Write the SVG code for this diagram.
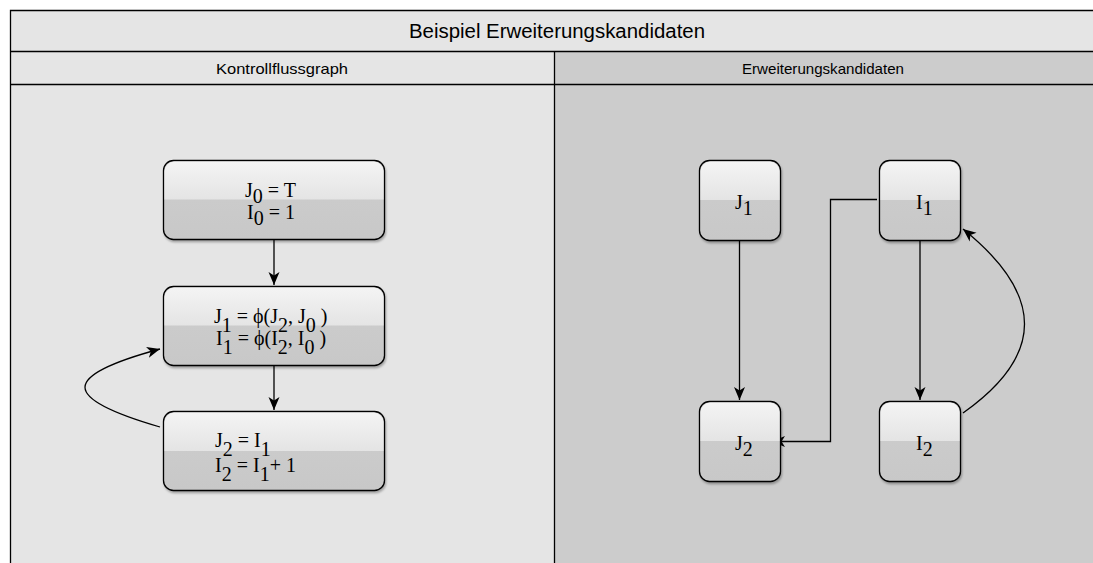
<svg xmlns="http://www.w3.org/2000/svg" width="1093" height="563" viewBox="0 0 1093 563">
<style>
.hdr{font-family:"Liberation Sans",Arial,sans-serif;fill:#000;text-anchor:middle;dominant-baseline:central}
.m{font-family:"Liberation Serif","Times New Roman",serif;font-size:20px;fill:#000}
.node{fill:url(#nodeFill);stroke:#000;stroke-width:1.3;filter:url(#sh)}
.gl{fill:url(#glass)}
.c{fill:none;stroke:#000;stroke-width:1.3}
</style>
<defs>
<linearGradient id="nodeFill" x1="0" y1="0" x2="0" y2="1">
<stop offset="0" stop-color="#cecece"/><stop offset="1" stop-color="#c8c8c8"/>
</linearGradient>
<linearGradient id="glass" x1="0" y1="0" x2="0" y2="1">
<stop offset="0" stop-color="#f4f4f4"/><stop offset="1" stop-color="#e4e4e4"/>
</linearGradient>
<filter id="sh" x="-10%" y="-10%" width="120%" height="130%">
<feDropShadow dx="1" dy="2" stdDeviation="1.2" flood-color="#000" flood-opacity="0.3"/>
</filter>
<marker id="ah" markerUnits="userSpaceOnUse" markerWidth="14" markerHeight="12" refX="13" refY="6" orient="auto">
<path d="M0,0.5 L13,6 L0,11.5 L3.5,6 Z" fill="#000"/>
</marker>
</defs>

<g id="frame">
<rect x="10.5" y="10.5" width="1100" height="560" fill="#e5e5e5" stroke="none"/>
<rect x="554.5" y="51.5" width="560" height="520" fill="#cccccc"/>
<path d="M10.5,563 V10.5 H1093" fill="none" stroke="#000" stroke-width="1.3"/>
<path d="M10.5,51.5 H1093 M10.5,84.5 H1093 M554.5,51.5 V563" fill="none" stroke="#000" stroke-width="1.3"/>
<text class="hdr" x="557" y="31" font-size="20" textLength="296" lengthAdjust="spacingAndGlyphs">Beispiel Erweiterungskandidaten</text>
<text class="hdr" x="282" y="68" font-size="15" textLength="132" lengthAdjust="spacingAndGlyphs">Kontrollflussgraph</text>
<text class="hdr" x="823" y="68" font-size="15" textLength="162" lengthAdjust="spacingAndGlyphs">Erweiterungskandidaten</text>
</g>

<g id="connectors">
<path class="c" d="M274,240 V285" marker-end="url(#ah)"/>
<path class="c" d="M274,366 V410" marker-end="url(#ah)"/>
<path class="c" d="M160,427 C60,398 60,376 160,349" marker-end="url(#ah)"/>
<path class="c" d="M739.5,241 V400" marker-end="url(#ah)"/>
<path class="c" d="M920,241 V400" marker-end="url(#ah)"/>
<path class="c" d="M877,199.5 H830.5 V441.5 H772" marker-end="url(#ah)"/>
<path class="c" d="M963,413 C1045,355 1045,295 963,229" marker-end="url(#ah)"/>
</g>

<g id="n-j0i0">
<rect class="node" x="163.5" y="160.5" width="221" height="79" rx="10"/>
<path class="gl" d="M174.5,161.5 H373.5 A10,10 0 0 1 383.5,171.5 V199.5 H164.5 V171.5 A10,10 0 0 1 174.5,161.5 Z"/>
<text class="m" x="245" y="197">J<tspan dy="6">0</tspan><tspan dy="-6"> = T</tspan></text>
<text class="m" x="247" y="219">I<tspan dy="6">0</tspan><tspan dy="-6"> = 1</tspan></text>
</g>

<g id="n-phi">
<rect class="node" x="163.5" y="286.5" width="221" height="79" rx="10"/>
<path class="gl" d="M174.5,287.5 H373.5 A10,10 0 0 1 383.5,297.5 V325.5 H164.5 V297.5 A10,10 0 0 1 174.5,287.5 Z"/>
<text class="m" x="214" y="323">J<tspan dy="9">1</tspan><tspan dy="-9"> = ϕ(J</tspan><tspan dy="9">2</tspan><tspan dy="-9">, J</tspan><tspan dy="9">0</tspan><tspan dy="-9"> )</tspan></text>
<text class="m" x="216" y="345">I<tspan dy="9">1</tspan><tspan dy="-9"> = ϕ(I</tspan><tspan dy="9">2</tspan><tspan dy="-9">, I</tspan><tspan dy="9">0</tspan><tspan dy="-9"> )</tspan></text>
</g>

<g id="n-j2i2">
<rect class="node" x="163.5" y="411.5" width="221" height="79" rx="10"/>
<path class="gl" d="M174.5,412.5 H373.5 A10,10 0 0 1 383.5,422.5 V451 H164.5 V422.5 A10,10 0 0 1 174.5,412.5 Z"/>
<text class="m" x="215" y="447">J<tspan dy="9">2</tspan><tspan dy="-9"> = I</tspan><tspan dy="9">1</tspan></text>
<text class="m" x="215" y="472">I<tspan dy="9">2</tspan><tspan dy="-9"> = I</tspan><tspan dy="9">1</tspan><tspan dy="-9">+ 1</tspan></text>
</g>

<g id="n-J1">
<rect class="node" x="699.5" y="160.5" width="81" height="80" rx="10"/>
<path class="gl" d="M710.5,161.5 H769.5 A10,10 0 0 1 779.5,171.5 V200 H700.5 V171.5 A10,10 0 0 1 710.5,161.5 Z"/>
<text class="m" x="735" y="209">J<tspan dy="6">1</tspan></text>
</g>

<g id="n-I1">
<rect class="node" x="879.5" y="160.5" width="81" height="80" rx="10"/>
<path class="gl" d="M890.5,161.5 H949.5 A10,10 0 0 1 959.5,171.5 V200 H880.5 V171.5 A10,10 0 0 1 890.5,161.5 Z"/>
<text class="m" x="916" y="209">I<tspan dy="6">1</tspan></text>
</g>

<g id="n-J2">
<rect class="node" x="699.5" y="401.5" width="81" height="80" rx="10"/>
<path class="gl" d="M710.5,402.5 H769.5 A10,10 0 0 1 779.5,412.5 V441 H700.5 V412.5 A10,10 0 0 1 710.5,402.5 Z"/>
<text class="m" x="735" y="450">J<tspan dy="6">2</tspan></text>
</g>

<g id="n-I2">
<rect class="node" x="879.5" y="401.5" width="81" height="80" rx="10"/>
<path class="gl" d="M890.5,402.5 H949.5 A10,10 0 0 1 959.5,412.5 V441 H880.5 V412.5 A10,10 0 0 1 890.5,402.5 Z"/>
<text class="m" x="916" y="450">I<tspan dy="6">2</tspan></text>
</g>
</svg>
